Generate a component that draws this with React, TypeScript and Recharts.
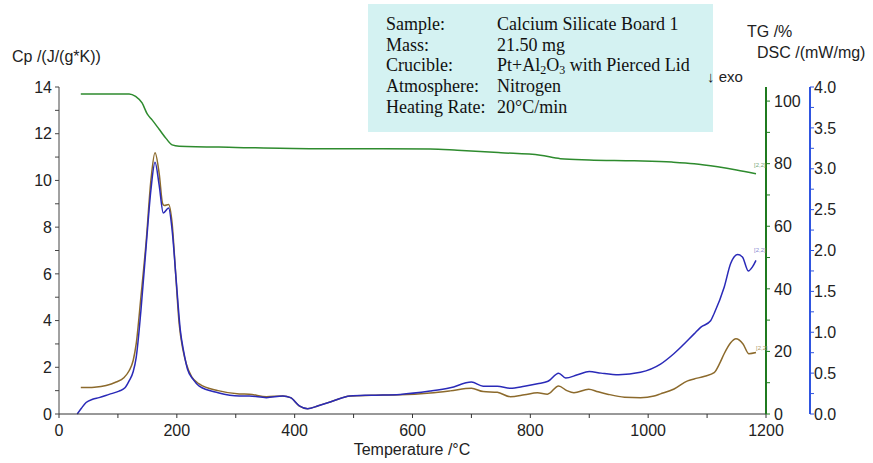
import React from 'react';
import { ComposedChart, Line, XAxis, YAxis } from 'recharts';

const tempTicks = [0, 100, 200, 300, 400, 500, 600, 700, 800, 900, 1000, 1100, 1200];
const cpTicks = [0, 1, 2, 3, 4, 5, 6, 7, 8, 9, 10, 11, 12, 13, 14];
const tgTicks = [0, 10, 20, 30, 40, 50, 60, 70, 80, 90, 100];
const dscTicks = [0, 0.25, 0.5, 0.75, 1, 1.25, 1.5, 1.75, 2, 2.25, 2.5, 2.75, 3, 3.25, 3.5, 3.75, 4];

const tgT = [37, 80, 119, 130, 141, 150, 158, 170, 182, 192, 204, 300, 425, 550, 630, 676, 750, 817, 851, 900, 976, 1040, 1078, 1118, 1150, 1183];
const tgV = [102.3, 102.3, 102.3, 101.5, 99.4, 95.8, 94, 91, 88, 86, 85.6, 85.2, 84.8, 84.8, 84.7, 84.3, 83.5, 82.7, 81.6, 81.2, 80.9, 80.5, 80, 79, 78, 76.8];

const cpT = [37, 60, 80, 97, 110, 119, 126, 131, 139, 148, 156, 163, 170, 176, 179, 186, 192, 198, 204, 210, 216, 225, 238, 270, 306, 323, 352, 380, 393, 408, 422, 440, 465, 494, 530, 579, 630, 664, 700, 720, 744, 766, 790, 812, 829, 848, 862, 874, 899, 915, 931, 960, 987, 1010, 1021, 1044, 1067, 1078, 1096, 1112, 1122, 1129, 1140, 1149, 1161, 1171, 1183];
const cpV = [1.13, 1.15, 1.22, 1.37, 1.55, 1.85, 2.3, 3.0, 5.0, 7.4, 10.0, 11.18, 10.3, 9.0, 8.93, 8.97, 8.16, 6.0, 3.86, 2.8, 2.15, 1.6, 1.29, 1.0, 0.86, 0.85, 0.74, 0.77, 0.7, 0.34, 0.23, 0.35, 0.56, 0.77, 0.8, 0.82, 0.9, 0.99, 1.1, 0.96, 0.93, 0.74, 0.82, 0.91, 0.85, 1.2, 1.0, 0.91, 1.06, 0.95, 0.85, 0.72, 0.7, 0.77, 0.86, 1.07, 1.42, 1.5, 1.62, 1.77, 2.2, 2.58, 3.05, 3.22, 3.0, 2.58, 2.63];

const dscT = [31, 38, 46, 57, 68, 85, 102, 112, 119, 126, 131, 139, 148, 156, 163, 170, 177, 186, 192, 199, 206, 212, 218, 228, 238, 270, 306, 323, 352, 380, 393, 408, 422, 440, 465, 494, 530, 579, 630, 664, 700, 720, 744, 766, 790, 812, 830, 848, 860, 880, 900, 920, 950, 987, 1021, 1044, 1078, 1089, 1106, 1112, 1129, 1140, 1152, 1160, 1170, 1177, 1183];
const dscV = [0.0, 0.07, 0.14, 0.18, 0.2, 0.24, 0.28, 0.32, 0.405, 0.52, 0.69, 1.26, 2.06, 2.74, 3.08, 2.8, 2.46, 2.52, 2.25, 1.63, 1.02, 0.75, 0.55, 0.42, 0.34, 0.26, 0.22, 0.22, 0.2, 0.22, 0.2, 0.1, 0.065, 0.1, 0.16, 0.22, 0.23, 0.24, 0.28, 0.32, 0.39, 0.34, 0.34, 0.315, 0.34, 0.37, 0.4, 0.5, 0.44, 0.48, 0.52, 0.5, 0.48, 0.51, 0.61, 0.74, 0.98, 1.06, 1.14, 1.23, 1.55, 1.84, 1.95, 1.92, 1.75, 1.8, 1.88];

const tgData = tgT.map((t, i) => ({ t, tg: tgV[i] }));
const cpData = cpT.map((t, i) => ({ t, cp: cpV[i] }));
const dscData = dscT.map((t, i) => ({ t, dsc: dscV[i] }));

const FONT = '"Liberation Sans", Arial, sans-serif';
const SERIF = '"Liberation Serif", "Times New Roman", serif';
const tickStyle = { fontFamily: FONT, fontSize: 16, fill: '#222' };

const infoRows = [
  ['Sample:', 'Calcium Silicate Board 1'],
  ['Mass:', '21.50 mg'],
  ['Crucible:', 'CRUCIBLE'],
  ['Atmosphere:', 'Nitrogen'],
  ['Heating Rate:', '20°C/min'],
];

export default function App() {
  return (
    <div style={{ position: 'absolute', left: 0, top: 0, width: 873, height: 463, background: '#fff' }}>
      <ComposedChart width={873} height={463} margin={{ top: 87, right: 0, left: 0, bottom: 19 }}>
        <XAxis
          type="number"
          dataKey="t"
          xAxisId="x"
          domain={[0, 1200]}
          ticks={tempTicks}
          tickFormatter={(v: number) => (v % 200 === 0 ? String(v) : '')}
          allowDataOverflow
          height={30}
          tick={tickStyle}
          tickSize={4}
          tickMargin={7}
          stroke="#333"
          interval={0}
        />
        <YAxis
          yAxisId="a1"
          orientation="left"
          domain={[0, 14]}
          ticks={cpTicks}
          tickFormatter={(v: number) => (v % 2 === 0 ? String(v) : '')}
          width={59}
          tick={tickStyle}
          tickSize={4}
          tickMargin={3}
          stroke="#444"
          interval={0}
        />
        <YAxis
          yAxisId="b1"
          orientation="right"
          domain={[0, 104.5]}
          ticks={tgTicks}
          tickFormatter={(v: number) => (v % 20 === 0 ? String(v) : '')}
          width={44}
          tick={tickStyle}
          tickSize={4}
          tickMargin={4}
          stroke="#1f7a1f"
          axisLine={{ stroke: '#1f7a1f', strokeWidth: 2 }}
          tickLine={{ stroke: '#1f7a1f' }}
          interval={0}
        />
        <YAxis
          yAxisId="c1"
          orientation="right"
          domain={[0, 4]}
          ticks={dscTicks}
          tickFormatter={(v: number) => (Math.abs((v * 2) % 1) < 1e-9 ? v.toFixed(1) : '')}
          width={63}
          tick={tickStyle}
          tickSize={4}
          tickMargin={0}
          stroke="#2f55e0"
          axisLine={{ stroke: '#2f55e0', strokeWidth: 2 }}
          tickLine={{ stroke: '#2f55e0' }}
          interval={0}
        />
        <Line data={tgData} xAxisId="x" yAxisId="b1" dataKey="tg" type="monotone" stroke="#2e8b2e" strokeWidth={1.5} dot={false} isAnimationActive={false} />
        <Line data={cpData} xAxisId="x" yAxisId="a1" dataKey="cp" type="monotone" stroke="#8c6a2c" strokeWidth={1.5} dot={false} isAnimationActive={false} />
        <Line data={dscData} xAxisId="x" yAxisId="c1" dataKey="dsc" type="monotone" stroke="#2a2ab8" strokeWidth={1.5} dot={false} isAnimationActive={false} />
      </ComposedChart>
      <svg width={873} height={463} style={{ position: 'absolute', left: 0, top: 0, pointerEvents: 'none' }}>
        <rect x={368} y={4} width={345} height={128} fill="#d4f2f2" />
        {infoRows.map((r, i) => (
          <g key={i} fontFamily={SERIF} fontSize={18} fill="#111">
            <text x={386} y={30 + i * 20.7}>{r[0]}</text>
            {r[1] === 'CRUCIBLE' ? (
              <text x={497} y={30 + i * 20.7}>
                Pt+Al<tspan fontSize={12} dy={3}>2</tspan>
                <tspan dy={-3}>O</tspan>
                <tspan fontSize={12} dy={3}>3</tspan>
                <tspan dy={-3}> with Pierced Lid</tspan>
              </text>
            ) : (
              <text x={497} y={30 + i * 20.7}>{r[1]}</text>
            )}
          </g>
        ))}
        <text x={12} y={62} fontFamily={FONT} fontSize={16} fill="#222">Cp /(J/(g*K))</text>
        <text x={747} y={37} fontFamily={FONT} fontSize={16} fill="#222">TG /%</text>
        <text x={757} y={58} fontFamily={FONT} fontSize={16} fill="#222">DSC /(mW/mg)</text>
        <text x={707} y={82} fontFamily={FONT} fontSize={15} fill="#222">↓ exo</text>
        <text x={412} y={455} textAnchor="middle" fontFamily={FONT} fontSize={16} fill="#222">Temperature /°C</text>
        <text x={754} y={167} fontFamily={FONT} fontSize={6} fill="#7aa87a">[2,2]</text>
        <text x={754} y={252} fontFamily={FONT} fontSize={6} fill="#8a8ad0">[2,2]</text>
        <text x={756} y={350} fontFamily={FONT} fontSize={6} fill="#b09a6a">[2,2]</text>
      </svg>
    </div>
  );
}
